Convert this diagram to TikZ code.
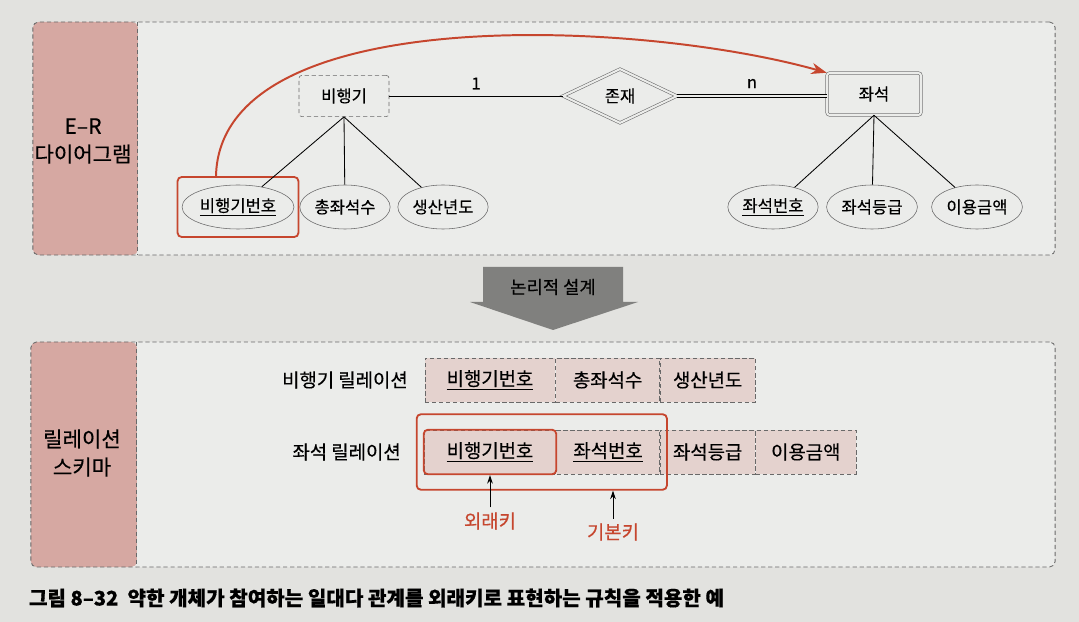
\documentclass[tikz,border=0pt]{standalone}
\usepackage{fontspec}
\setmainfont{Noto Sans CJK KR}[FakeBold=0.4]
\usepackage{tikz}
\usetikzlibrary{shapes.geometric, arrows, arrows.meta, positioning, fit}
\definecolor{pagegrey}{RGB}{226,226,223}
\definecolor{panelgrey}{RGB}{235,236,234}
\definecolor{sidepink}{RGB}{214,168,162}
\definecolor{cellpink}{RGB}{228,210,206}
\definecolor{keyred}{RGB}{198,70,46}
\definecolor{flowgrey}{RGB}{128,128,126}
\definecolor{edgegrey}{RGB}{105,105,105}

\begin{document}
\begin{tikzpicture}[
    x=0.025cm, y=-0.025cm,
    txt/.style={font=\fontsize{11.8}{14}\selectfont},
    rtxt/.style={font=\fontsize{13.4}{16}\selectfont},
    panel/.style={rectangle, draw=edgegrey, densely dashed, rounded corners=4pt, fill=panelgrey, line width=0.6pt},
    side/.style={align=center, font=\fontsize{15}{20}\selectfont},
    entity/.style={rectangle, draw=edgegrey, densely dashed, rounded corners=2pt, fill=panelgrey, minimum width=2.25cm, minimum height=1.03cm, txt},
    weak/.style={rectangle, draw=edgegrey, double=panelgrey, double distance=1.5pt, rounded corners=2pt, fill=panelgrey, minimum width=2.35cm, minimum height=1.05cm, txt},
    rel/.style={diamond, draw=edgegrey, double=panelgrey, double distance=1.5pt, fill=panelgrey, aspect=2, minimum width=2.85cm, minimum height=1.35cm, inner sep=1pt, txt},
    attr/.style={ellipse, draw=edgegrey, fill=panelgrey, minimum height=1.1cm, inner sep=1pt, txt},
    cell/.style={rectangle, draw=edgegrey, densely dashed, fill=cellpink, minimum height=1.1cm, rtxt},
    keybox/.style={rectangle, draw=keyred, rounded corners=3pt, line width=1.3pt},
    link/.style={draw=black, line width=0.6pt},
    arrow/.style={-{Stealth[length=6pt, width=4pt]}, line width=0.7pt}
]
    \fill[pagegrey] (0,0) rectangle (1079,622);
    \useasboundingbox (0,0) rectangle (1079,622);

    % Panels
    \node[panel, minimum width=25.55cm, minimum height=5.825cm,
        path picture={\fill[sidepink] (path picture bounding box.north west) rectangle ([xshift=2.625cm]path picture bounding box.south west);
        \draw[edgegrey, densely dashed] ([xshift=2.625cm]path picture bounding box.north west) -- ([xshift=2.625cm]path picture bounding box.south west);}] (erpanel) at (544,138.5) {};
    \node[panel, minimum width=25.6cm, minimum height=5.625cm,
        path picture={\fill[sidepink] (path picture bounding box.north west) rectangle ([xshift=2.65cm]path picture bounding box.south west);
        \draw[edgegrey, densely dashed] ([xshift=2.65cm]path picture bounding box.north west) -- ([xshift=2.65cm]path picture bounding box.south west);}] (relpanel) at (543,454.5) {};
    \node[side] (erlabel) at (83,141) {E–R\\다이어그램};
    \node[side] (rellabel) at (82,453) {릴레이션\\스키마};

    % E-R diagram
    \node[entity] (plane) at (344,96) {비행기};
    \node[rel] (exist) at (620,96) {존재};
    \node[weak] (seat) at (874,94) {좌석};
    \node[attr, minimum width=2.575cm] (pnum) at (238,207) {\underline{비행기번호}};
    \node[attr, minimum width=2.15cm] (pseats) at (345,207) {총좌석수};
    \node[attr, minimum width=2.2cm] (pyear) at (443,207) {생산년도};
    \node[attr, minimum width=2.25cm] (snum) at (773,207) {\underline{좌석번호}};
    \node[attr, minimum width=2.27cm] (sgrade) at (872,207) {좌석등급};
    \node[attr, minimum width=2.27cm] (sfee) at (977,207) {이용금액};
    \node[keybox, fit=(pnum), inner xsep=3pt, inner ysep=5.5pt] (fkmark) {};

    \draw[link] (plane) -- node[above=1pt, txt] {1} (exist);
    \draw[link, double=panelgrey, double distance=1.5pt, line width=0.5pt] (exist.east) -- node[above=2pt, txt] {n} (exist.east -| seat.west);
    \draw[link] (plane.south) -- (pnum);
    \draw[link] (plane.south) -- (pseats);
    \draw[link] (plane.south) -- (pyear);
    \draw[link] (seat.south) -- (snum);
    \draw[link] (seat.south) -- (sgrade);
    \draw[link] (seat.south) -- (sfee);
    \draw[keyred, line width=1.4pt, -{Stealth[length=11pt, width=8pt]}] ([xshift=-0.55cm]fkmark.north) .. controls (220,0) and (640,20) .. (seat.north west);

    % Logical design arrow
    \fill[flowgrey] (483,267) -- (623,267) -- (623,302) -- (638,302) -- (553,330) -- (470,302) -- (483,302) -- cycle;
    \node[font=\fontsize{12.6}{15}\selectfont] (design) at (553,287) {논리적 설계};

    % Relation schema
    \node[cell, minimum width=3.25cm] (p1) at (490,380) {\underline{비행기번호}};
    \node[cell, minimum width=2.6cm, right=0pt of p1] (p2) {총좌석수};
    \node[cell, minimum width=2.375cm, right=0pt of p2] (p3) {생산년도};
    \node[rtxt, left=0.3cm of p1] (pname) {비행기 릴레이션};

    \node[cell, minimum width=3.3cm] (s1) at (490,452) {\underline{비행기번호}};
    \node[cell, minimum width=2.575cm, right=0pt of s1] (s2) {\underline{좌석번호}};
    \node[cell, minimum width=2.375cm, right=0pt of s2] (s3) {좌석등급};
    \node[cell, minimum width=2.5cm, right=0pt of s3] (s4) {이용금액};
    \node[rtxt, left=0.45cm of s1] (sname) {좌석 릴레이션};

    \node[keybox, fit=(s1), inner sep=0pt] (fkbox) {};
    \node[keybox, fit=(s1)(s2), inner xsep=5pt, inner ysep=11pt] (pkbox) {};
    \node[rtxt, text=keyred] (fklabel) at (490,521) {외래키};
    \node[rtxt, text=keyred] (pklabel) at (613,532) {기본키};
    \draw[arrow] (fklabel.north) -- (fkbox.south);
    \draw[arrow] (pklabel.north) -- (pklabel.north |- pkbox.south);

    % Caption
    \node[anchor=west, font=\fontsize{14.3}{17}\selectfont\bfseries] (caption) at (24,598) {그림 8–32\ \ 약한 개체가 참여하는 일대다 관계를 외래키로 표현하는 규칙을 적용한 예};
\end{tikzpicture}
\end{document}
